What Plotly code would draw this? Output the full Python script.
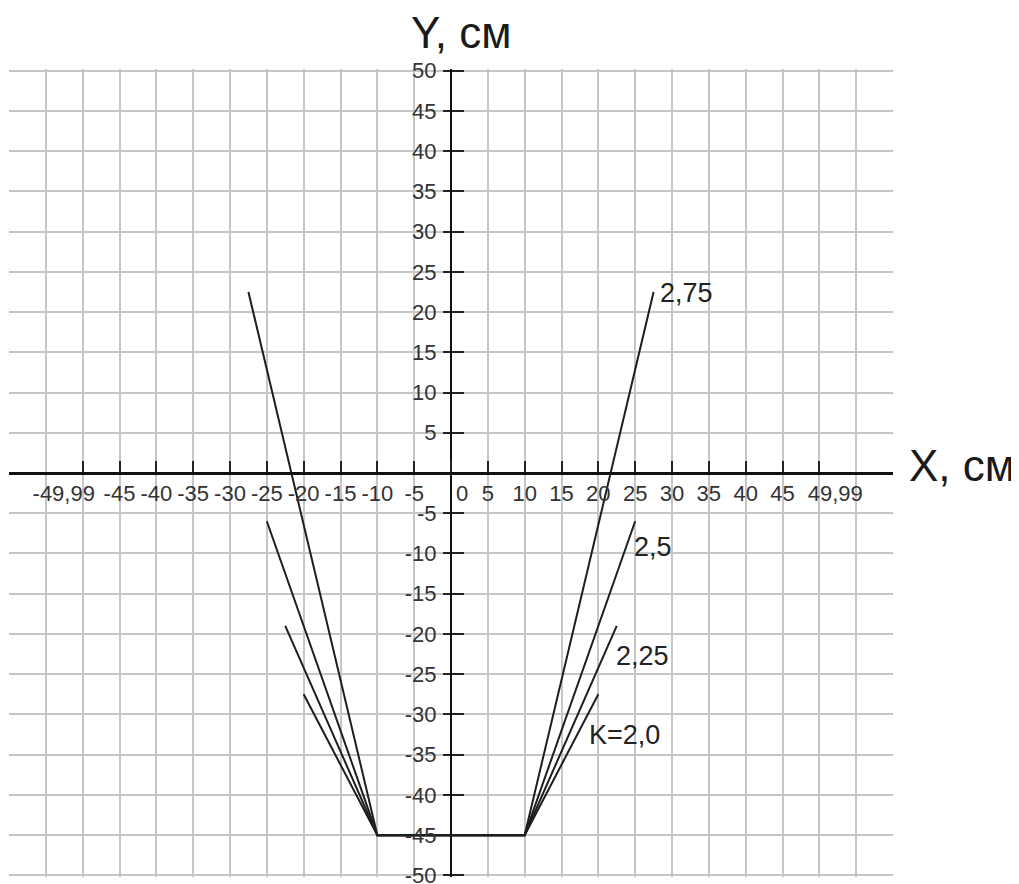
import plotly.graph_objects as go

# ---------------- data ----------------
curve_labels = ["K=2,0", "2,25", "2,5", "2,75"]
end_x = [20.0, 22.5, 25.0, 27.5]          # |x| of the upper end of each side line, cm
end_y = [-27.5, -19.0, -6.0, 22.5]        # y of the upper end of each side line, cm
base_x = [-10.0, 10.0]                    # bottom segment ends, cm
base_y = -45.0                            # bottom segment level, cm

x_tick_vals = [-49.99, -45, -40, -35, -30, -25, -20, -15, -10, -5, 0,
               5, 10, 15, 20, 25, 30, 35, 40, 45, 49.99]
x_tick_text = ["-49,99", "-45", "-40", "-35", "-30", "-25", "-20", "-15", "-10", "-5", "0",
               "5", "10", "15", "20", "25", "30", "35", "40", "45", "49,99"]
y_tick_vals = [50, 45, 40, 35, 30, 25, 20, 15, 10, 5,
               -5, -10, -15, -20, -25, -30, -35, -40, -45, -50]
y_tick_text = ["50", "45", "40", "35", "30", "25", "20", "15", "10", "5",
               "-5", "-10", "-15", "-20", "-25", "-30", "-35", "-40", "-45", "-50"]

x_range = [-60, 60]
y_range = [-50.2, 50.2]

# ---------------- styling ----------------
FONT = "Liberation Sans, Arial, sans-serif"
TICKFONT = dict(family=FONT, size=22, color="#333")

# a few x tick labels sit slightly off their tick in the reference (px along the axis)
label_nudge = {"-49,99": -19, "0": 11, "49,99": 16}

# label offsets (px) relative to the right end of each curve
label_shift = [(-11, -41), (-3, -30), (-3, -26), (4, -1)]

fig = go.Figure()

for i in range(len(curve_labels)):
    xs = [-end_x[i], base_x[0], base_x[1], end_x[i]]
    ys = [end_y[i], base_y, base_y, end_y[i]]
    fig.add_trace(go.Scatter(x=xs, y=ys, mode="lines",
                             line=dict(color="#1e1e1e", width=2),
                             showlegend=False, hoverinfo="skip"))

# main centre x axis: all tick marks, labels except the nudged ones
main_text = ["" if t in label_nudge else t for t in x_tick_text]

X_AXIS_STYLE = dict(overlaying="x", anchor="free", position=0.5, side="bottom",
                    range=x_range, tickmode="array",
                    ticks="inside", ticklen=11, tickwidth=1.5, tickcolor="#222",
                    showline=True, linecolor="#111", linewidth=2.5,
                    showgrid=False, zeroline=False, tickangle=0,
                    tickfont=TICKFONT, ticklabelstandoff=0,
                    automargin=False, fixedrange=True)

layout_axes = {"xaxis2": dict(X_AXIS_STYLE, tickvals=x_tick_vals, ticktext=main_text)}
helper_pairs = [("x2", "y"), ("x", "y2"), ("x", "y3")]

# extra overlaid axes that only carry a nudged label each
for k, (lab, shift) in enumerate(label_nudge.items()):
    idx = x_tick_text.index(lab)
    ax_no = 3 + k
    layout_axes[f"xaxis{ax_no}"] = dict(X_AXIS_STYLE, tickvals=[x_tick_vals[idx]],
                                        ticktext=[lab], ticklabelshift=shift)
    helper_pairs.append((f"x{ax_no}", "y"))

# invisible helper traces so the overlaid centre axes get drawn
for xa, ya in helper_pairs:
    fig.add_trace(go.Scatter(x=base_x, y=[base_y, base_y], mode="lines",
                             line=dict(width=0, color="rgba(0,0,0,0)"),
                             xaxis=xa, yaxis=ya, showlegend=False, hoverinfo="skip"))

grid_color = "#c6c6c6"

# the page body has an 8px margin, so the figure is made 8px smaller
fig.update_layout(
    template="none",
    width=1011, height=876,
    margin=dict(l=1, r=126, t=61, b=7, pad=0),
    paper_bgcolor="white", plot_bgcolor="white",
    showlegend=False,
    xaxis=dict(range=x_range, tickmode="linear", tick0=0, dtick=5,
               showgrid=True, gridcolor=grid_color, gridwidth=1.5,
               zeroline=False, showline=False, ticks="", showticklabels=False,
               automargin=False, fixedrange=True),
    yaxis=dict(range=y_range, tickmode="array", tickvals=[-50] + y_tick_vals + [0],
               showgrid=True, gridcolor=grid_color, gridwidth=1.5,
               zeroline=False, showline=False, ticks="", showticklabels=False,
               automargin=False, fixedrange=True),
    yaxis2=dict(overlaying="y", anchor="free", position=0.5, side="left",
                range=y_range, tickmode="array", tickvals=y_tick_vals, ticktext=y_tick_text,
                ticks="outside", ticklen=7, tickwidth=1.5, tickcolor="#222",
                showline=True, linecolor="#111", linewidth=2.2,
                showgrid=False, zeroline=False, ticklabeloverflow="allow",
                tickfont=TICKFONT, ticklabelstandoff=2,
                automargin=False, fixedrange=True),
    yaxis3=dict(overlaying="y", anchor="free", position=0.5, side="left",
                range=y_range, tickmode="array", tickvals=y_tick_vals,
                ticks="inside", ticklen=12, tickwidth=1.5, tickcolor="#222",
                showline=False, showgrid=False, zeroline=False, showticklabels=False,
                automargin=False, fixedrange=True),
    **layout_axes,
)

annotations = []
for i, lab in enumerate(curve_labels):
    dx, dy = label_shift[i]
    annotations.append(dict(x=end_x[i], y=end_y[i], xref="x", yref="y", text=lab,
                            showarrow=False, xanchor="left", yanchor="middle",
                            xshift=dx, yshift=dy,
                            font=dict(family=FONT, size=27, color="#222")))

annotations.append(dict(x=0, y=1.045, xref="x", yref="paper", text="Y, см",
                        showarrow=False, xanchor="center", yanchor="middle", xshift=10,
                        font=dict(family=FONT, size=44, color="#1a1a1a")))
annotations.append(dict(x=1, y=0, xref="paper", yref="y", text="X, см",
                        showarrow=False, xanchor="left", yanchor="middle", xshift=14, yshift=8,
                        font=dict(family=FONT, size=44, color="#1a1a1a")))
fig.update_layout(annotations=annotations)

fig.write_html("out.html")
